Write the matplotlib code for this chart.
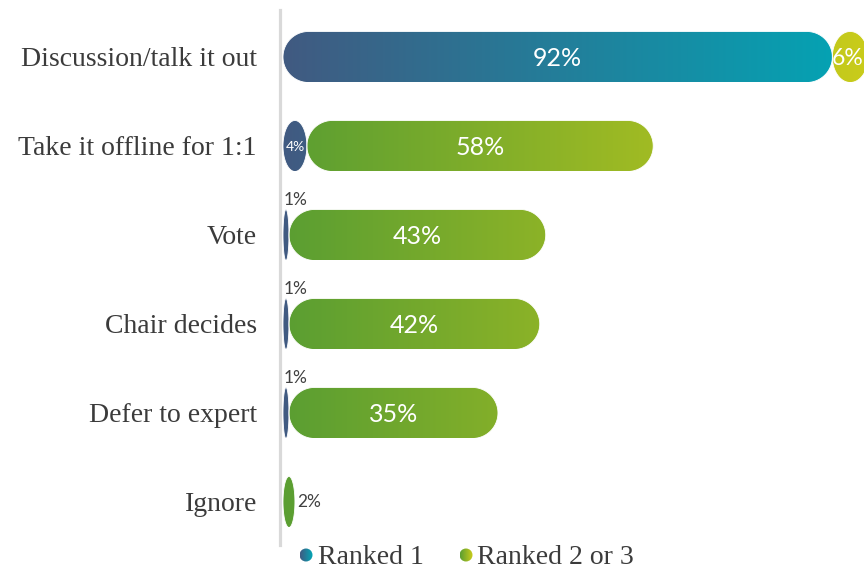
import numpy as np
import matplotlib
matplotlib.use("Agg")
import matplotlib.pyplot as plt
from matplotlib.patches import Polygon, Circle
from matplotlib.colors import LinearSegmentedColormap

# Survey data: share of respondents per conflict-resolution approach
categories = ["Discussion/talk it out", "Take it offline for 1:1", "Vote",
              "Chair decides", "Defer to expert", "Ignore"]
ranked_1 = [92, 4, 1, 1, 1, 0]
ranked_2_3 = [6, 58, 43, 42, 35, 2]
series_names = ["Ranked 1", "Ranked 2 or 3"]

W, H = 864, 569
fig = plt.figure(figsize=(W / 100, H / 100), dpi=100)
fig.patch.set_facecolor("white")

# Plot area geometry (pixels)
AX_L, AX_B, AX_W, AX_H = 283, 22, 581, 537
XMAX = 97.3
YLIM = (5.506, -0.528)
PX_X = AX_W / XMAX
PX_Y = AX_H / (YLIM[0] - YLIM[1])
BAR_H = 0.573

ax = fig.add_axes([AX_L / W, AX_B / H, AX_W / W, AX_H / H])

cmap_1 = LinearSegmentedColormap.from_list("r1", ["#415a81", "#00a8b7"])
cmap_23 = LinearSegmentedColormap.from_list("r23", ["#5a9e32", "#cccd1a"])
grad = np.linspace(0, 1, 256).reshape(1, -1)


def pill_points(x0, w, yc, h, n=40):
    r_px = h * PX_Y / 2
    rx = min(r_px / PX_X, w / 2)
    ry = h / 2
    x1 = x0 + w
    y0, y1 = yc - h / 2, yc + h / 2
    pts = []
    corners = [((x1 - rx, y0 + ry), -90, 0), ((x1 - rx, y1 - ry), 0, 90),
               ((x0 + rx, y1 - ry), 90, 180), ((x0 + rx, y0 + ry), 180, 270)]
    for (cx, cy), a0, a1 in corners:
        t = np.radians(np.linspace(a0, a1, n))
        pts.append(np.column_stack([cx + rx * np.cos(t), cy + ry * np.sin(t)]))
    return np.vstack(pts)


def gradient_bar(x0, w, yc, cmap):
    if w <= 0:
        return
    poly = Polygon(pill_points(x0, w, yc, BAR_H), closed=True,
                   facecolor="none", edgecolor="white", lw=0.6, zorder=3)
    ax.add_patch(poly)
    im = ax.imshow(grad, extent=[0, 100, yc + BAR_H / 2, yc - BAR_H / 2],
                   cmap=cmap, aspect="auto", interpolation="bilinear", zorder=2)
    im.set_clip_path(poly)


label_font = "Lato"
inside = dict(color="white", family=label_font, va="center_baseline", zorder=5)
outside = dict(color="#404040", fontsize=12.5, family=label_font, zorder=5)

for i, (a, b) in enumerate(zip(ranked_1, ranked_2_3)):
    gradient_bar(0, a, i, cmap_1)
    gradient_bar(a, b, i, cmap_23)

    # Ranked 1 value labels
    if a >= 10:
        ax.text(a / 2, i, f"{a}%", fontsize=18, ha="center", **inside)
    elif a >= 3:
        ax.text(a / 2, i, f"{a}%", fontsize=10, ha="center", **inside)
    elif a > 0:
        ax.text(0.1, i - BAR_H / 2 - 0.02, f"{a}%", ha="left", va="bottom",
                **outside)

    # Ranked 2 or 3 value labels
    if b >= 10:
        ax.text(a + b / 2, i, f"{b}%", fontsize=18, ha="center", **inside)
    elif b >= 5:
        # narrow end cap at the right edge of the plot
        ax.text(XMAX - 0.05, i, f"{b}%", fontsize=16.5, ha="right", **inside)
    else:
        ax.text(a + b + 0.3, i, f"{b}%", ha="left", va="center", **outside)

    # Category name
    ax.annotate(categories[i], xy=(0, i), xycoords=("axes fraction", "data"),
                xytext=(-26, 0), textcoords="offset pixels", ha="right",
                va="center_baseline", fontsize=20, family="Liberation Serif",
                color="#3b3b3b")

ax.set_xlim(0, XMAX)
ax.set_ylim(*YLIM)
ax.set_xticks([])
ax.set_yticks([])
for s in ["top", "right", "bottom"]:
    ax.spines[s].set_visible(False)
ax.spines["left"].set_color("#d9d9d9")
ax.spines["left"].set_linewidth(2.3)
ax.spines["left"].set_position(("outward", 2))
ax.spines["left"].set_bounds(YLIM[1], YLIM[0] - 0.02)

# Legend with gradient dots, drawn on a pixel-space overlay
lg = fig.add_axes([0, 0, 1, 1], zorder=10)
lg.axis("off")
legend_items = [(306, 318, cmap_1), (466, 477, cmap_23)]
for name, (cx, tx, cmap) in zip(series_names, legend_items):
    c = Circle((cx, 555), 6.5, facecolor="none", edgecolor="none")
    lg.add_patch(c)
    im = lg.imshow(grad, extent=[cx - 6.5, cx + 6.5, 562, 548], cmap=cmap,
                   aspect="auto", interpolation="bilinear")
    im.set_clip_path(c)
    lg.text(tx, 555, name, ha="left", va="center_baseline", fontsize=20,
            family="Liberation Serif", color="#3b3b3b")
lg.set_xlim(0, W)
lg.set_ylim(H, 0)

fig.savefig("out.png", dpi=100, facecolor="white")
